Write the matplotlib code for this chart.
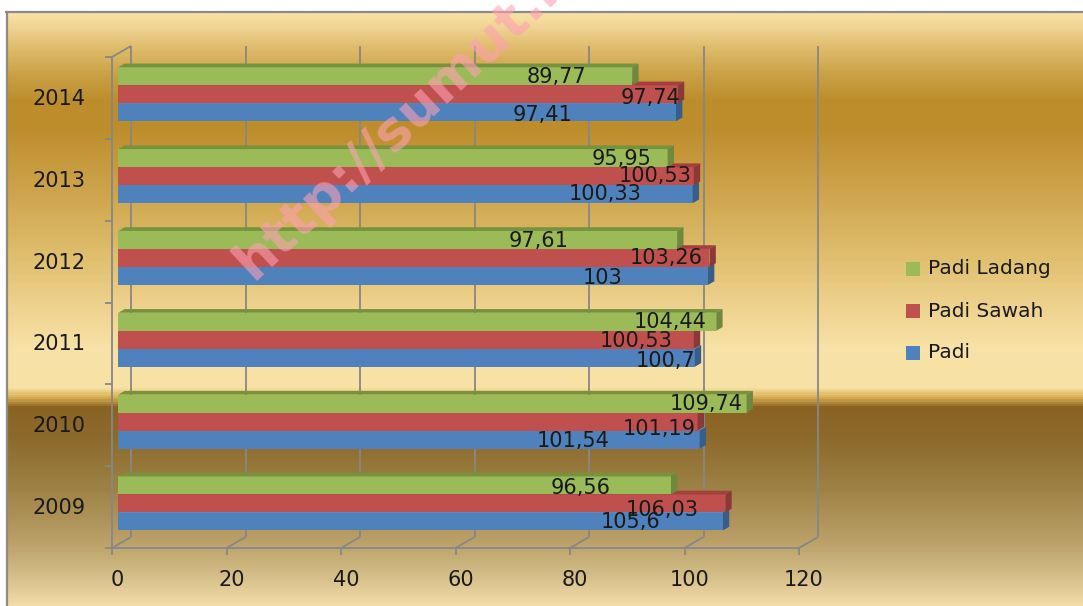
import matplotlib
matplotlib.use("Agg")
import matplotlib.pyplot as plt
import numpy as np
from matplotlib.colors import LinearSegmentedColormap
from matplotlib.patches import Polygon, Rectangle
from matplotlib.transforms import Affine2D

plt.rcParams["font.family"] = "DejaVu Sans"

# ---------- data ----------
years = ["2009", "2010", "2011", "2012", "2013", "2014"]
padi = [105.6, 101.54, 100.7, 103, 100.33, 97.41]
padi_sawah = [106.03, 101.19, 100.53, 103.26, 100.53, 97.74]
padi_ladang = [96.56, 109.74, 104.44, 97.61, 95.95, 89.77]
series_names = ["Padi", "Padi Sawah", "Padi Ladang"]
x_ticks = [0, 20, 40, 60, 80, 100, 120]

# ---------- style ----------
W, H = 1083, 606
FRONT = {"Padi": "#4F81BD", "Padi Sawah": "#C0504D", "Padi Ladang": "#9BBB59"}
TOP = {"Padi": "#6A93C6", "Padi Sawah": "#A33F3C", "Padi Ladang": "#76923C"}
SIDE = {"Padi": "#385D8A", "Padi Sawah": "#8C3836", "Padi Ladang": "#6F873E"}
GRID = "#878787"
TXT = "#1a1a1a"
FS = 15

# where Excel put each value label (pixels from bar end / bar centre), 2009..2014
label_dx = {
    "Padi": [-92, -127, -29, -105, -88, -134],
    "Padi Sawah": [-63, -38, -58, -43, -39, -27],
    "Padi Ladang": [-91, -40, -46, -139, -46, -76],
}
label_dy = {
    "Padi": [1, 1, 3, 2, 0, 3],
    "Padi Sawah": [7, 7, 1, 0, 0, 4],
    "Padi Ladang": [3, 0, 0, 1, 1, 1],
}

# background gradient stops (pixel row from top, colour)
bg_stops = [
    (12, "#F9E1A6"), (27, "#EFD291"), (45, "#E0BD6E"), (75, "#C99F43"),
    (100, "#BD8D2C"), (130, "#BE8E2D"), (200, "#D0A750"), (260, "#E0C070"),
    (310, "#EFD390"), (350, "#F8E2A7"), (388, "#F8E1A4"), (398, "#D8AD50"),
    (408, "#8A6323"), (440, "#8D6B2D"), (490, "#9E8245"), (540, "#B99E66"),
    (575, "#D2BB86"), (606, "#F2DBA7"),
]


def fx(x):
    return x / W


def fy(y):
    return 1 - y / H


fig = plt.figure(figsize=(W / 100, H / 100), dpi=100)
fig.patch.set_facecolor("white")

# ---------- gradient background ----------
bg = fig.add_axes([fx(7), 0, 1 - fx(7), fy(12)])
pos = [(y - 12) / (606 - 12) for y, _ in bg_stops]
cmap = LinearSegmentedColormap.from_list("gold", list(zip(pos, [c for _, c in bg_stops])))
grad = np.linspace(0, 1, 600).reshape(-1, 1)
bg.imshow(grad, cmap=cmap, aspect="auto", extent=[0, 1, 1, 0], interpolation="bilinear")
bg.set_xlim(0, 1)
bg.set_ylim(1, 0)
bg.axis("off")
fig.add_artist(plt.Line2D([fx(6), 1], [fy(12), fy(12)], color="#8A8A8A", lw=1.6))
fig.add_artist(plt.Line2D([fx(7), fx(7)], [fy(12), 0], color="#8A8A8A", lw=1.6))

# ---------- main (front plane) axes ----------
ax = fig.add_axes([fx(112), fy(548), (799 - 112) / W, (548 - 57) / H])
ax.set_xlim(0, 120)
ax.set_ylim(0, 6)
ax.axis("off")
ax.patch.set_alpha(0)

ux = 120 / (799 - 112)   # data per pixel
uy = 6 / (548 - 57)
Dx, Dy = 19 * ux, 11 * uy          # floor / wall depth
fxo, fyo = Dx / 3, Dy / 3          # bar front offset
ex, ey = Dx / 3, Dy / 3            # bar extrusion
bh = 18 * uy                       # bar thickness

lk = dict(color=GRID, lw=1.3, clip_on=False, solid_capstyle="butt")
# back wall grid, floor and ticks
for t in x_ticks:
    ax.plot([t + Dx, t + Dx], [Dy, 6 + Dy], zorder=1, **lk)
    ax.plot([t, t + Dx], [0, Dy], zorder=1, **lk)
    ax.plot([t, t], [0, -7 * uy], zorder=1, **lk)
    ax.text(t + 5 * ux, -32 * uy, str(t), ha="center", va="center", fontsize=FS, color=TXT)
ax.plot([0, 120], [0, 0], zorder=1, **lk)
ax.plot([0, 0], [0, 6], zorder=1, **lk)
ax.plot([0, Dx], [6, 6 + Dy], zorder=1, **lk)
for k in range(7):
    ax.plot([-7 * ux, 0], [k, k], zorder=1, **lk)

# ---------- 3D bars ----------
series = {"Padi": padi, "Padi Sawah": padi_sawah, "Padi Ladang": padi_ladang}
z = 2
for i, yr in enumerate(years):
    c = i + 0.5
    ax.text(-26 * ux, c - 1 * uy, yr, ha="right", va="center", fontsize=FS, color=TXT)
    for j, name in enumerate(series_names):
        v = series[name][i]
        y0 = c - 1.5 * bh + j * bh + fyo
        x0 = fxo
        x1 = v + fxo
        y1 = y0 + bh
        ax.add_patch(Rectangle((x0, y0), x1 - x0, bh, facecolor=FRONT[name],
                               edgecolor="none", zorder=z, clip_on=False))
        ax.add_patch(Polygon([(x0, y1), (x1, y1), (x1 + ex, y1 + ey), (x0 + ex, y1 + ey)],
                             closed=True, facecolor=TOP[name], edgecolor="none",
                             zorder=z, clip_on=False))
        ax.add_patch(Polygon([(x1, y0), (x1 + ex, y0 + ey), (x1 + ex, y1 + ey), (x1, y1)],
                             closed=True, facecolor=SIDE[name], edgecolor="none",
                             zorder=z, clip_on=False))
        z += 1
# value labels on top of all bars
for i in range(len(years)):
    c = i + 0.5
    for j, name in enumerate(series_names):
        v = series[name][i]
        yc = c - bh + j * bh + fyo
        tr = ax.transData + Affine2D().translate(label_dx[name][i], -label_dy[name][i])
        ax.text(v + fxo, yc, f"{v:g}".replace(".", ","), transform=tr,
                ha="center", va="center", fontsize=FS, color=TXT, zorder=100)

# ---------- legend ----------
for k, name in enumerate(reversed(series_names)):
    yc = 269 + k * 42
    fig.add_artist(Rectangle((fx(906), fy(yc + 7)), 14 / W, 14 / H,
                             transform=fig.transFigure, facecolor=FRONT[name],
                             edgecolor="none"))
    fig.text(fx(928), fy(yc), name, ha="left", va="center", fontsize=14.5, color=TXT)

# ---------- watermark ----------
fig.text(fx(253), fy(281), "http://sumut.bps.go.id", rotation=43, rotation_mode="anchor",
         ha="left", va="baseline", fontsize=39, fontweight="bold", color="#FFA0B4",
         alpha=0.6, zorder=50)

fig.savefig("out.png", dpi=100, facecolor=fig.get_facecolor())
